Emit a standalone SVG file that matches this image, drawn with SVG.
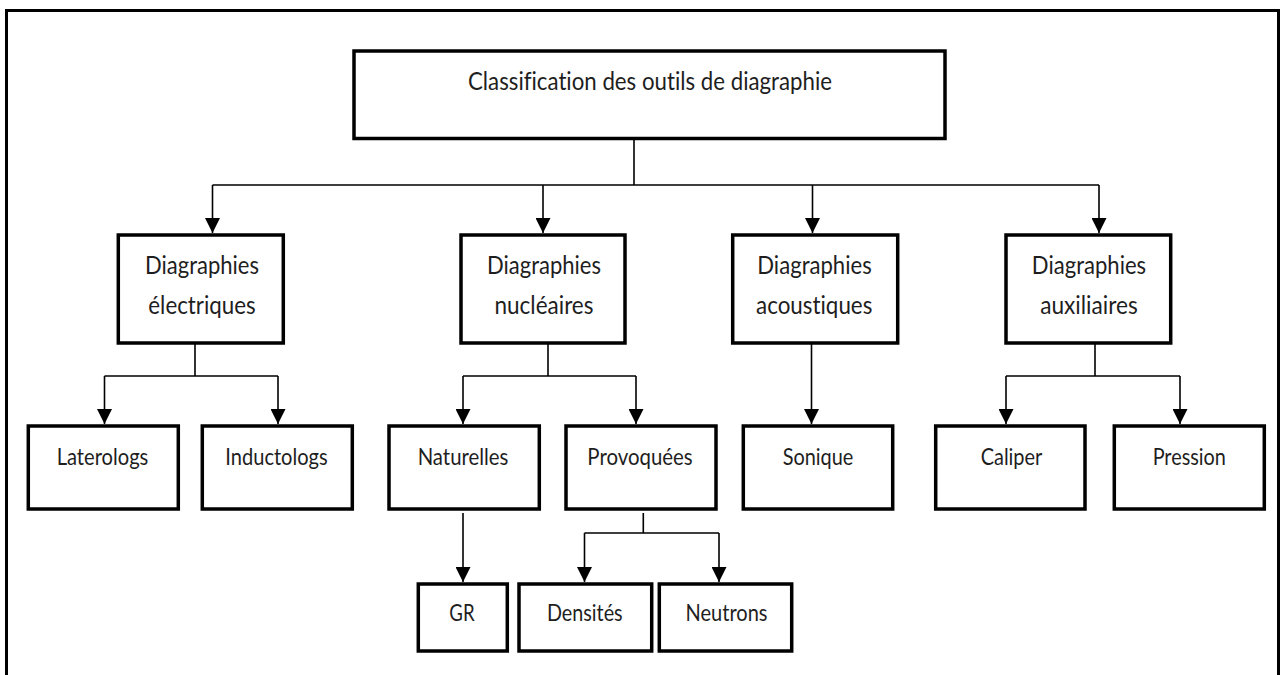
<svg xmlns="http://www.w3.org/2000/svg" width="1280" height="675" viewBox="0 0 1280 675">
<style>
.box{fill:#fff;stroke:#000;stroke-width:3.5}
.lbl{font-family:Lato,"Open Sans","Liberation Sans",sans-serif;fill:#1e1e1e;text-anchor:middle;font-variant-ligatures:none;font-feature-settings:"liga" 0,"dlig" 0,"clig" 0}
.big{font-size:25.5px}
.sm{font-size:22.5px}
.con{fill:none;stroke:#000;stroke-width:1.6}
.arr{marker-end:url(#ah)}
</style>
<defs>
<marker id="ah" markerUnits="userSpaceOnUse" markerWidth="15" markerHeight="15" refX="15" refY="7.5" orient="auto" viewBox="0 0 15 15">
<path d="M0,0 L15,7.5 L0,15 z" fill="#000"/>
</marker>
</defs>
<rect width="1280" height="675" fill="#fff"/>
<path d="M6.5,675 V10.5 H1278.5 V675" fill="none" stroke="#000" stroke-width="3"/>

<g id="connectors">
<path class="con" d="M634,139 V185 M212.5,185 H1099"/>
<path class="con arr" d="M212.5,185 V233"/>
<path class="con arr" d="M543,185 V233"/>
<path class="con arr" d="M812.5,185 V233"/>
<path class="con arr" d="M1099,185 V233"/>
<path class="con" d="M195,343 V376 M104.5,376 H278"/>
<path class="con arr" d="M104.5,376 V424"/>
<path class="con arr" d="M278,376 V424"/>
<path class="con" d="M548,343 V376 M463,376 H636"/>
<path class="con arr" d="M463,376 V424"/>
<path class="con arr" d="M636,376 V424"/>
<path class="con arr" d="M811.5,343 V424"/>
<path class="con" d="M1095,343 V376 M1006,376 H1180"/>
<path class="con arr" d="M1006,376 V424"/>
<path class="con arr" d="M1180,376 V424"/>
<path class="con arr" d="M463,513 V582"/>
<path class="con" d="M643.3,513 V533 M584.5,533 H719"/>
<path class="con arr" d="M584.5,533 V582"/>
<path class="con arr" d="M719,533 V582"/>
</g>

<g id="root">
<rect class="box" x="354" y="51" width="591" height="87.5" stroke-width="3"/>
<text class="lbl big" x="650" y="89.5" textLength="364" lengthAdjust="spacingAndGlyphs">Classification des outils de diagraphie</text>
</g>

<g id="electriques">
<rect class="box" x="118.3" y="235" width="165" height="108"/>
<text class="lbl big" x="202" y="273.5" textLength="114" lengthAdjust="spacingAndGlyphs">Diagraphies</text>
<text class="lbl big" x="202" y="313.5" textLength="107.3" lengthAdjust="spacingAndGlyphs">électriques</text>
</g>
<g id="nucleaires">
<rect class="box" x="461" y="235" width="164" height="108"/>
<text class="lbl big" x="544" y="273.5" textLength="114" lengthAdjust="spacingAndGlyphs">Diagraphies</text>
<text class="lbl big" x="544" y="313.5" textLength="99" lengthAdjust="spacingAndGlyphs">nucléaires</text>
</g>
<g id="acoustiques">
<rect class="box" x="732.7" y="235" width="165" height="108"/>
<text class="lbl big" x="814.5" y="273.5" textLength="114.4" lengthAdjust="spacingAndGlyphs">Diagraphies</text>
<text class="lbl big" x="814.2" y="313.5" textLength="116.3" lengthAdjust="spacingAndGlyphs">acoustiques</text>
</g>
<g id="auxiliaires">
<rect class="box" x="1006" y="235" width="164.7" height="108"/>
<text class="lbl big" x="1089" y="273.5" textLength="114.3" lengthAdjust="spacingAndGlyphs">Diagraphies</text>
<text class="lbl big" x="1089" y="313.5" textLength="97.7" lengthAdjust="spacingAndGlyphs">auxiliaires</text>
</g>

<g id="laterologs">
<rect class="box" x="28.3" y="426" width="150" height="83"/>
<text class="lbl sm" x="102.5" y="464.5" textLength="91.7" lengthAdjust="spacingAndGlyphs">Laterologs</text>
</g>
<g id="inductologs">
<rect class="box" x="202.3" y="426" width="150" height="83"/>
<text class="lbl sm" x="276.5" y="464.5" textLength="102.3" lengthAdjust="spacingAndGlyphs">Inductologs</text>
</g>
<g id="naturelles">
<rect class="box" x="389" y="426" width="150.3" height="83"/>
<text class="lbl sm" x="463" y="464.5" textLength="90.7" lengthAdjust="spacingAndGlyphs">Naturelles</text>
</g>
<g id="provoquees">
<rect class="box" x="566" y="426" width="150" height="83"/>
<text class="lbl sm" x="640" y="464.5" textLength="105.3" lengthAdjust="spacingAndGlyphs">Provoquées</text>
</g>
<g id="sonique">
<rect class="box" x="743.3" y="426" width="149.4" height="83"/>
<text class="lbl sm" x="818" y="464.5" textLength="70.7" lengthAdjust="spacingAndGlyphs">Sonique</text>
</g>
<g id="caliper">
<rect class="box" x="935.7" y="426" width="149.3" height="83"/>
<text class="lbl sm" x="1011.5" y="464.5" textLength="61.7" lengthAdjust="spacingAndGlyphs">Caliper</text>
</g>
<g id="pression">
<rect class="box" x="1114.3" y="426" width="150" height="83"/>
<text class="lbl sm" x="1189.3" y="464.5" textLength="73.3" lengthAdjust="spacingAndGlyphs">Pression</text>
</g>

<g id="gr">
<rect class="box" x="418.3" y="584" width="89" height="67"/>
<text class="lbl sm" x="462" y="621" textLength="25.3" lengthAdjust="spacingAndGlyphs">GR</text>
</g>
<g id="densites">
<rect class="box" x="519" y="584" width="132.7" height="67"/>
<text class="lbl sm" x="584.8" y="621" textLength="75.7" lengthAdjust="spacingAndGlyphs">Densités</text>
</g>
<g id="neutrons">
<rect class="box" x="659.3" y="584" width="132.4" height="67"/>
<text class="lbl sm" x="726.5" y="621" textLength="82" lengthAdjust="spacingAndGlyphs">Neutrons</text>
</g>
</svg>
